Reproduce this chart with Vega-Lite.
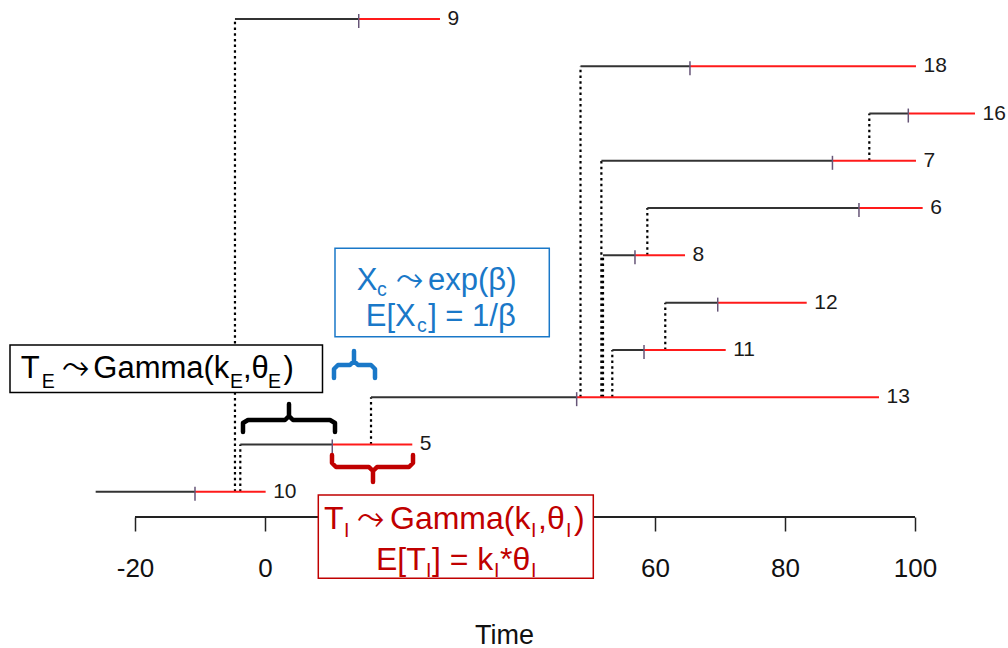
{
  "$schema": "https://vega.github.io/schema/vega-lite/v6.json",
  "width": 1008,
  "height": 517,
  "autosize": "none",
  "padding": {"left": 0, "top": 0, "right": 0, "bottom": 131},
  "background": "white",
  "config": {
    "view": {"stroke": null},
    "font": "Liberation Sans, DejaVu Sans",
    "axisX": {"domain": false, "grid": false, "tickSize": 14, "tickWidth": 1.5, "tickColor": "#222222",
      "labelFontSize": 26, "labelFont": "Liberation Sans", "labelColor": "#111111", "labelPadding": 24, "labelFlush": false,
      "titleFontSize": 27, "titleFont": "Liberation Sans", "titleFontWeight": "normal", "titleColor": "#111111", "titlePadding": 41}
  },
  "datasets": {
    "cases": [
      {"id": "10", "row": 1, "start": -26.05, "onset": -10.77, "end": 0.1, "from": null},
      {"id": "5", "row": 2, "start": -3.8, "onset": 10.35, "end": 22.66, "from": 1},
      {"id": "13", "row": 3, "start": 16.31, "onset": 47.95, "end": 94.46, "from": 2},
      {"id": "11", "row": 4, "start": 53.43, "onset": 58.31, "end": 70.88, "from": 3},
      {"id": "12", "row": 5, "start": 61.58, "onset": 69.65, "end": 83.34, "from": 4},
      {"id": "8", "row": 6, "start": 52.0, "onset": 56.92, "end": 64.62, "from": 3},
      {"id": "6", "row": 7, "start": 58.82, "onset": 91.38, "end": 101.18, "from": 6},
      {"id": "7", "row": 8, "start": 51.75, "onset": 87.3, "end": 100.15, "from": 3},
      {"id": "16", "row": 9, "start": 92.97, "onset": 98.97, "end": 109.23, "from": 8},
      {"id": "18", "row": 10, "start": 48.54, "onset": 65.38, "end": 100.15, "from": 3},
      {"id": "9", "row": 11, "start": -4.62, "onset": 14.42, "end": 26.92, "from": 1}
    ],
    "axisline": [{"a": -20, "b": 100}],
    "boxes": [
      {"g": "TE", "x": -39.23, "x2": 8.846, "y": 4.103, "y2": 3.099},
      {"g": "Xc", "x": 10.769, "x2": 43.738, "y": 6.149, "y2": 4.279},
      {"g": "TI", "x": 8.2, "x2": 50.508, "y": 0.93, "y2": -0.832}
    ],
    "notes": [
      {"g": "TE", "lvl": "main", "x": -37.585, "y": 3.399, "t": "T"},
      {"g": "TE", "lvl": "sub", "x": -34.354, "y": 3.194, "t": "E"},
      {"g": "TE", "lvl": "arrow", "x": -31.2, "y": 3.399, "t": "⤳"},
      {"g": "TE", "lvl": "main", "x": -26.415, "y": 3.399, "t": "Gamma(k"},
      {"g": "TE", "lvl": "sub", "x": -5.385, "y": 3.194, "t": "E"},
      {"g": "TE", "lvl": "main", "x": -3.385, "y": 3.399, "t": ",θ"},
      {"g": "TE", "lvl": "sub", "x": 0.462, "y": 3.194, "t": "E"},
      {"g": "TE", "lvl": "main", "x": 2.85, "y": 3.399, "t": ")"},
      {"g": "Xc", "lvl": "main", "x": 14.108, "y": 5.267, "t": "X"},
      {"g": "Xc", "lvl": "sub", "x": 17.231, "y": 5.14, "t": "c"},
      {"g": "Xc", "lvl": "arrow", "x": 20.2, "y": 5.267, "t": "⤳"},
      {"g": "Xc", "lvl": "main", "x": 25.077, "y": 5.267, "t": "exp(β)"},
      {"g": "Xc", "lvl": "main", "x": 15.5, "y": 4.505, "t": "E[X"},
      {"g": "Xc", "lvl": "sub", "x": 23.4, "y": 4.378, "t": "c"},
      {"g": "Xc", "lvl": "main", "x": 25.1, "y": 4.505, "t": "] = 1/β"},
      {"g": "TI", "lvl": "main", "x": 9.077, "y": 0.205, "t": "T"},
      {"g": "TI", "lvl": "sub", "x": 12.154, "y": 0.048, "t": "I"},
      {"g": "TI", "lvl": "arrow", "x": 14.1, "y": 0.205, "t": "⤳"},
      {"g": "TI", "lvl": "main", "x": 19.231, "y": 0.205, "t": "Gamma(k"},
      {"g": "TI", "lvl": "sub", "x": 40.923, "y": 0.048, "t": "I"},
      {"g": "TI", "lvl": "main", "x": 42.0, "y": 0.205, "t": ",θ"},
      {"g": "TI", "lvl": "sub", "x": 46.308, "y": 0.048, "t": "I"},
      {"g": "TI", "lvl": "main", "x": 47.538, "y": 0.205, "t": ")"},
      {"g": "TI", "lvl": "main", "x": 17.077, "y": -0.656, "t": "E[T"},
      {"g": "TI", "lvl": "sub", "x": 24.769, "y": -0.794, "t": "I"},
      {"g": "TI", "lvl": "main", "x": 25.692, "y": -0.656, "t": "] = k"},
      {"g": "TI", "lvl": "sub", "x": 35.231, "y": -0.794, "t": "I"},
      {"g": "TI", "lvl": "main", "x": 36.154, "y": -0.656, "t": "*θ"},
      {"g": "TI", "lvl": "sub", "x": 40.923, "y": -0.794, "t": "I"}
    ],
    "braces": [
      {"g": "TE", "i": 1, "x": -3.385, "y": 2.263},
      {"g": "TE", "i": 2, "x": -3.385, "y": 2.453},
      {"g": "TE", "i": 3, "x": -2.615, "y": 2.517},
      {"g": "TE", "i": 4, "x": 3.077, "y": 2.517},
      {"g": "TE", "i": 5, "x": 3.692, "y": 2.601},
      {"g": "TE", "i": 6, "x": 3.692, "y": 2.855},
      {"g": "TE", "i": 7, "x": 3.692, "y": 2.601},
      {"g": "TE", "i": 8, "x": 4.308, "y": 2.517},
      {"g": "TE", "i": 9, "x": 10.0, "y": 2.517},
      {"g": "TE", "i": 10, "x": 10.769, "y": 2.453},
      {"g": "TE", "i": 11, "x": 10.769, "y": 2.263},
      {"g": "Xc", "i": 1, "x": 10.615, "y": 3.405},
      {"g": "Xc", "i": 2, "x": 10.615, "y": 3.596},
      {"g": "Xc", "i": 3, "x": 11.231, "y": 3.68},
      {"g": "Xc", "i": 4, "x": 13.077, "y": 3.68},
      {"g": "Xc", "i": 5, "x": 13.692, "y": 3.765},
      {"g": "Xc", "i": 6, "x": 13.692, "y": 3.977},
      {"g": "Xc", "i": 7, "x": 13.692, "y": 3.765},
      {"g": "Xc", "i": 8, "x": 14.308, "y": 3.68},
      {"g": "Xc", "i": 9, "x": 16.308, "y": 3.68},
      {"g": "Xc", "i": 10, "x": 16.923, "y": 3.596},
      {"g": "Xc", "i": 11, "x": 16.923, "y": 3.405},
      {"g": "TI", "i": 1, "x": 10.308, "y": 1.776},
      {"g": "TI", "i": 2, "x": 10.308, "y": 1.607},
      {"g": "TI", "i": 3, "x": 10.923, "y": 1.522},
      {"g": "TI", "i": 4, "x": 16.0, "y": 1.522},
      {"g": "TI", "i": 5, "x": 16.615, "y": 1.438},
      {"g": "TI", "i": 6, "x": 16.615, "y": 1.205},
      {"g": "TI", "i": 7, "x": 16.615, "y": 1.438},
      {"g": "TI", "i": 8, "x": 17.231, "y": 1.522},
      {"g": "TI", "i": 9, "x": 22.154, "y": 1.522},
      {"g": "TI", "i": 10, "x": 22.769, "y": 1.607},
      {"g": "TI", "i": 11, "x": 22.769, "y": 1.776}
    ]
  },
  "layer": [
    {
      "data": {"name": "axisline"},
      "mark": {"type": "rule", "color": "#222222", "strokeWidth": 2},
      "encoding": {
        "x": {"field": "a", "type": "quantitative", "scale": {"domain": [-40.769, 114.308], "nice": false, "zero": false},
          "axis": {"values": [-20, 0, 60, 80, 100], "labelExpr": "datum.value + ''", "title": "Time"}},
        "x2": {"field": "b"},
        "y": {"value": "height"}
      }
    },
    {
      "data": {"name": "cases"},
      "transform": [{"filter": "datum.from != null"}],
      "mark": {"type": "rule", "color": "#000000", "strokeWidth": 2.2, "strokeDash": [2.5, 3.2]},
      "encoding": {
        "x": {"field": "start", "type": "quantitative", "scale": {"domain": [-40.769, 114.308], "nice": false, "zero": false},
          "axis": {"values": [-20, 0, 60, 80, 100], "labelExpr": "datum.value + ''", "title": "Time"}},
        "y": {"field": "from", "type": "quantitative", "scale": {"domain": [0.465, 11.402], "nice": false, "zero": false}, "axis": null},
        "y2": {"field": "row"}
      }
    },
    {
      "data": {"name": "cases"},
      "mark": {"type": "rule", "color": "#333333", "strokeWidth": 2},
      "encoding": {
        "x": {"field": "start", "type": "quantitative", "scale": {"domain": [-40.769, 114.308], "nice": false, "zero": false},
          "axis": {"values": [-20, 0, 60, 80, 100], "labelExpr": "datum.value + ''", "title": "Time"}},
        "x2": {"field": "onset"},
        "y": {"field": "row", "type": "quantitative", "scale": {"domain": [0.465, 11.402], "nice": false, "zero": false}, "axis": null}
      }
    },
    {
      "data": {"name": "cases"},
      "mark": {"type": "rule", "color": "#ff1a1a", "strokeWidth": 2},
      "encoding": {
        "x": {"field": "onset", "type": "quantitative", "scale": {"domain": [-40.769, 114.308], "nice": false, "zero": false},
          "axis": {"values": [-20, 0, 60, 80, 100], "labelExpr": "datum.value + ''", "title": "Time"}},
        "x2": {"field": "end"},
        "y": {"field": "row", "type": "quantitative", "scale": {"domain": [0.465, 11.402], "nice": false, "zero": false}, "axis": null}
      }
    },
    {
      "data": {"name": "cases"},
      "mark": {"type": "tick", "orient": "vertical", "size": 14, "thickness": 1.5, "yOffset": 2, "color": "#665577", "opacity": 1},
      "encoding": {
        "x": {"field": "onset", "type": "quantitative", "scale": {"domain": [-40.769, 114.308], "nice": false, "zero": false},
          "axis": {"values": [-20, 0, 60, 80, 100], "labelExpr": "datum.value + ''", "title": "Time"}},
        "y": {"field": "row", "type": "quantitative", "scale": {"domain": [0.465, 11.402], "nice": false, "zero": false}, "axis": null}
      }
    },
    {
      "data": {"name": "cases"},
      "mark": {"type": "text", "align": "left", "baseline": "middle", "dx": 7.5, "fontSize": 21, "font": "Liberation Sans", "color": "#1a1a1a"},
      "encoding": {
        "x": {"field": "end", "type": "quantitative", "scale": {"domain": [-40.769, 114.308], "nice": false, "zero": false},
          "axis": {"values": [-20, 0, 60, 80, 100], "labelExpr": "datum.value + ''", "title": "Time"}},
        "y": {"field": "row", "type": "quantitative", "scale": {"domain": [0.465, 11.402], "nice": false, "zero": false}, "axis": null},
        "text": {"field": "id"}
      }
    },
    {
      "data": {"name": "boxes"},
      "mark": {"type": "rect", "fill": "white", "strokeWidth": 1.5},
      "encoding": {
        "x": {"field": "x", "type": "quantitative", "scale": {"domain": [-40.769, 114.308], "nice": false, "zero": false},
          "axis": {"values": [-20, 0, 60, 80, 100], "labelExpr": "datum.value + ''", "title": "Time"}},
        "x2": {"field": "x2"},
        "y": {"field": "y", "type": "quantitative", "scale": {"domain": [0.465, 11.402], "nice": false, "zero": false}, "axis": null},
        "y2": {"field": "y2"},
        "stroke": {"field": "g", "type": "nominal", "scale": {"domain": ["TE", "Xc", "TI"], "range": ["#000000", "#1a78c8", "#c00000"]}, "legend": null}
      }
    },
    {
      "data": {"name": "notes"},
      "transform": [{"filter": "datum.lvl == 'main' && datum.g != 'TI'"}],
      "mark": {"type": "text", "align": "left", "baseline": "alphabetic", "fontSize": 31, "font": "Liberation Sans, DejaVu Sans"},
      "encoding": {
        "x": {"field": "x", "type": "quantitative", "scale": {"domain": [-40.769, 114.308], "nice": false, "zero": false},
          "axis": {"values": [-20, 0, 60, 80, 100], "labelExpr": "datum.value + ''", "title": "Time"}},
        "y": {"field": "y", "type": "quantitative", "scale": {"domain": [0.465, 11.402], "nice": false, "zero": false}, "axis": null},
        "text": {"field": "t"},
        "color": {"field": "g", "type": "nominal", "scale": {"domain": ["TE", "Xc", "TI"], "range": ["#000000", "#1a78c8", "#c00000"]}, "legend": null}
      }
    },
    {
      "data": {"name": "notes"},
      "transform": [{"filter": "datum.lvl == 'main' && datum.g == 'TI'"}],
      "mark": {"type": "text", "align": "left", "baseline": "alphabetic", "fontSize": 32, "font": "Liberation Sans, DejaVu Sans"},
      "encoding": {
        "x": {"field": "x", "type": "quantitative", "scale": {"domain": [-40.769, 114.308], "nice": false, "zero": false},
          "axis": {"values": [-20, 0, 60, 80, 100], "labelExpr": "datum.value + ''", "title": "Time"}},
        "y": {"field": "y", "type": "quantitative", "scale": {"domain": [0.465, 11.402], "nice": false, "zero": false}, "axis": null},
        "text": {"field": "t"},
        "color": {"field": "g", "type": "nominal", "scale": {"domain": ["TE", "Xc", "TI"], "range": ["#000000", "#1a78c8", "#c00000"]}, "legend": null}
      }
    },
    {
      "data": {"name": "notes"},
      "transform": [{"filter": "datum.lvl == 'arrow'"}],
      "mark": {"type": "text", "align": "left", "baseline": "alphabetic", "fontSize": 34, "font": "DejaVu Sans"},
      "encoding": {
        "x": {"field": "x", "type": "quantitative", "scale": {"domain": [-40.769, 114.308], "nice": false, "zero": false},
          "axis": {"values": [-20, 0, 60, 80, 100], "labelExpr": "datum.value + ''", "title": "Time"}},
        "y": {"field": "y", "type": "quantitative", "scale": {"domain": [0.465, 11.402], "nice": false, "zero": false}, "axis": null},
        "text": {"field": "t"},
        "color": {"field": "g", "type": "nominal", "scale": {"domain": ["TE", "Xc", "TI"], "range": ["#000000", "#1a78c8", "#c00000"]}, "legend": null}
      }
    },
    {
      "data": {"name": "notes"},
      "transform": [{"filter": "datum.lvl == 'sub'"}],
      "mark": {"type": "text", "align": "left", "baseline": "alphabetic", "fontSize": 19.5, "font": "Liberation Sans, DejaVu Sans"},
      "encoding": {
        "x": {"field": "x", "type": "quantitative", "scale": {"domain": [-40.769, 114.308], "nice": false, "zero": false},
          "axis": {"values": [-20, 0, 60, 80, 100], "labelExpr": "datum.value + ''", "title": "Time"}},
        "y": {"field": "y", "type": "quantitative", "scale": {"domain": [0.465, 11.402], "nice": false, "zero": false}, "axis": null},
        "text": {"field": "t"},
        "color": {"field": "g", "type": "nominal", "scale": {"domain": ["TE", "Xc", "TI"], "range": ["#000000", "#1a78c8", "#c00000"]}, "legend": null}
      }
    },
    {
      "data": {"name": "braces"},
      "mark": {"type": "line", "strokeWidth": 4.5, "strokeJoin": "round", "strokeCap": "round"},
      "encoding": {
        "x": {"field": "x", "type": "quantitative", "scale": {"domain": [-40.769, 114.308], "nice": false, "zero": false},
          "axis": {"values": [-20, 0, 60, 80, 100], "labelExpr": "datum.value + ''", "title": "Time"}},
        "y": {"field": "y", "type": "quantitative", "scale": {"domain": [0.465, 11.402], "nice": false, "zero": false}, "axis": null},
        "order": {"field": "i", "type": "quantitative"},
        "detail": {"field": "g", "type": "nominal"},
        "color": {"field": "g", "type": "nominal", "scale": {"domain": ["TE", "Xc", "TI"], "range": ["#000000", "#1a78c8", "#c00000"]}, "legend": null}
      }
    }
  ]
}
